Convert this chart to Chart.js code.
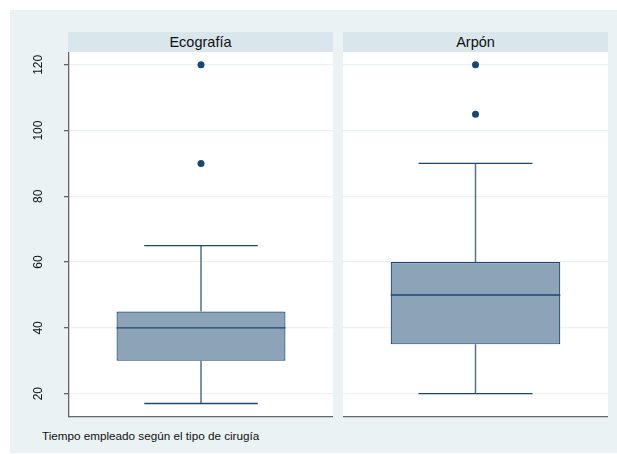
<!DOCTYPE html>
<html>
<head>
<meta charset="utf-8">
<script src="https://cdn.jsdelivr.net/npm/chart.js@4/dist/chart.umd.min.js"></script>
<style>
  body { margin: 0; background: #fff; width: 617px; height: 454px; position: relative; overflow: hidden;
         font-family: Arial, "Liberation Sans", sans-serif; }
  #frame { position: absolute; left: 10px; top: 10px; width: 607px; height: 443px; background: #EAF2F3; }
  .strip { position: absolute; top: 32px; height: 20px; background: #D9E6EB; color: #111;
           font-size: 14.5px; line-height: 20px; text-align: center; }
  .pane { position: absolute; top: 52px; height: 366px; }
  #note { position: absolute; left: 42px; top: 429px; font-size: 11.7px; line-height: 14px; color: #111; }
</style>
</head>
<body>
<div id="frame"></div>
<div class="strip" style="left:68px;width:265px">Ecografía</div>
<div class="strip" style="left:343px;width:265px">Arpón</div>
<div class="pane" style="left:10px;width:323px"><canvas id="c1"></canvas></div>
<div class="pane" style="left:343px;width:265px"><canvas id="c2"></canvas></div>
<div id="note">Tiempo empleado según el tipo de cirugía</div>

<script>
// Tiempo (min) por tipo de cirugía: resumen de cada caja
const groups       = ['Ecografía', 'Arpón'];
const lowerWhisker = [17, 20];
const q1           = [30, 35];
const median       = [40, 50];
const q3           = [45, 60];
const upperWhisker = [65, 90];
const outliers     = [[90, 120], [105, 120]];
const yTicks       = [20, 40, 60, 80, 100, 120];

const NAVY = '#1a476f';
const BOX_FILL = '#8CA3B8';
const GRID = '#EAF2F3';
const AXIS = '#666';
const CAP_RATIO = 0.43 / 0.64;   // cap width relative to box width

// whiskers, caps and median line, placed with the chart's own scales
const boxParts = {
  id: 'boxParts',
  beforeDraw(chart) {
    const a = chart.chartArea, ctx = chart.ctx;
    ctx.save();
    ctx.fillStyle = '#fff';
    ctx.fillRect(a.left, a.top, a.right - a.left, a.bottom - a.top);
    ctx.restore();
  },
  afterDatasetsDraw(chart) {
    const i = chart.options.plugins.boxParts.index;
    const y = chart.scales.y;
    const bar = chart.getDatasetMeta(0).data[0];
    const ctx = chart.ctx;
    const cx = bar.x, half = bar.width / 2, capHalf = half * CAP_RATIO;
    const pLo = y.getPixelForValue(lowerWhisker[i]);
    const pQ1 = y.getPixelForValue(q1[i]);
    const pQ3 = y.getPixelForValue(q3[i]);
    const pHi = y.getPixelForValue(upperWhisker[i]);
    const pMed = y.getPixelForValue(median[i]);
    ctx.save();
    // whisker stems
    ctx.strokeStyle = '#52728F';
    ctx.lineWidth = 1.5;
    ctx.beginPath();
    ctx.moveTo(cx, pQ3); ctx.lineTo(cx, pHi);
    ctx.moveTo(cx, pQ1); ctx.lineTo(cx, pLo);
    ctx.stroke();
    // caps
    ctx.strokeStyle = NAVY;
    ctx.lineWidth = 1.3;
    ctx.beginPath();
    ctx.moveTo(cx - capHalf, pHi); ctx.lineTo(cx + capHalf, pHi);
    ctx.moveTo(cx - capHalf, pLo); ctx.lineTo(cx + capHalf, pLo);
    // median
    ctx.moveTo(cx - half, pMed); ctx.lineTo(cx + half, pMed);
    ctx.stroke();
    ctx.restore();
  },
  afterDraw(chart) {
    if (!chart.options.plugins.boxParts.labels) return;
    // vertical (rotated) tick labels on the left axis
    const y = chart.scales.y, ctx = chart.ctx;
    ctx.save();
    ctx.fillStyle = '#111';
    ctx.font = '12px Arial, "Liberation Sans", sans-serif';
    ctx.textAlign = 'center';
    ctx.textBaseline = 'middle';
    yTicks.forEach(v => {
      ctx.save();
      ctx.translate(29, y.getPixelForValue(v));
      ctx.rotate(-Math.PI / 2);
      ctx.fillText(String(v), 0, 0);
      ctx.restore();
    });
    ctx.restore();
  }
};

function makePanel(canvasId, i, withAxis) {
  return new Chart(document.getElementById(canvasId), {
    data: {
      labels: [groups[i]],
      datasets: [
        {
          type: 'bar',
          data: [[q1[i], q3[i]]],
          backgroundColor: BOX_FILL,
          borderColor: NAVY,
          borderWidth: 1.2,
          borderSkipped: false,
          barPercentage: 0.64,
          categoryPercentage: 1
        },
        {
          type: 'line',
          data: outliers[i].map(v => ({ x: groups[i], y: v })),
          showLine: false,
          pointRadius: 3.5,
          pointHoverRadius: 3.5,
          pointBackgroundColor: NAVY,
          pointBorderColor: NAVY,
          pointBorderWidth: 0
        }
      ]
    },
    options: {
      responsive: true,
      maintainAspectRatio: false,
      animation: false,
      layout: { padding: 0, autoPadding: false },
      plugins: {
        legend: { display: false },
        tooltip: { enabled: false },
        boxParts: { index: i, labels: withAxis }
      },
      scales: {
        x: {
          type: 'category',
          ticks: { display: false },
          grid: { display: false, drawTicks: false },
          border: { display: true, color: AXIS, width: 1.3 },
          afterFit: s => { s.height = 1; }
        },
        y: {
          type: 'linear',
          min: 12.9,
          max: 123.9,
          afterBuildTicks: s => { s.ticks = yTicks.map(v => ({ value: v })); },
          ticks: { display: false },
          grid: {
            color: GRID,
            lineWidth: 1.3,
            drawTicks: withAxis,
            tickLength: 5,
            tickColor: AXIS
          },
          border: { display: withAxis, color: AXIS, width: 1.3 },
          afterFit: s => { s.width = withAxis ? 59 : 0; }
        }
      }
    },
    plugins: [boxParts]
  });
}

makePanel('c1', 0, true);
makePanel('c2', 1, false);
</script>
</body>
</html>
